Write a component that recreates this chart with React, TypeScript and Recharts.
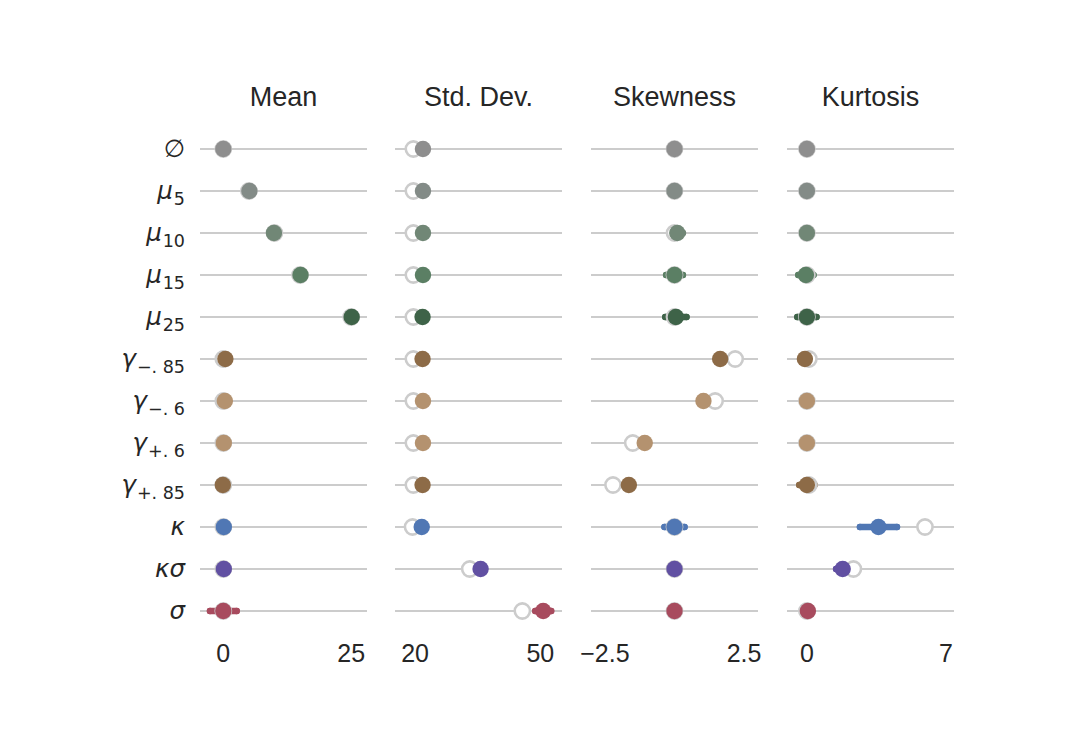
import React from "react";
import {
  ScatterChart,
  Scatter,
  XAxis,
  YAxis,
  ReferenceLine,
  ErrorBar
} from "recharts";

// rows (top to bottom)
const rowSymbols = ["∅", "μ", "μ", "μ", "μ", "γ", "γ", "γ", "γ", "κ", "κσ", "σ"];
const rowSubs = ["", "5", "10", "15", "25", "−. 85", "−. 6", "+. 6", "+. 85", "", "", ""];
const rowColors = [
  "#8e8e8e", "#838b87", "#718776", "#5b7f64", "#3e6348",
  "#8d6b47", "#b4926f", "#b4926f", "#8d6b47",
  "#5077b4", "#6150a2", "#a84b5e"
];

// Mean
const meanEst = [0, 5.1, 9.9, 15.1, 25.1, 0.4, 0.3, 0.1, -0.1, 0.1, 0.1, 0];
const meanTrue = [0, 5, 10, 15, 25, 0, 0, 0, 0, 0, 0, 0];
const meanErr = [0, 0, 0, 0, 0.3, 0, 0, 0, 0, 0, 0, 2.6];

// Std. Dev.
const stdEst = [21.9, 21.9, 21.9, 21.9, 21.8, 21.8, 21.9, 21.9, 21.8, 21.6, 35.7, 50.7];
const stdTrue = [19.6, 19.6, 19.6, 19.6, 19.6, 19.6, 19.6, 19.6, 19.6, 19.4, 33.1, 45.7];
const stdErr = [0, 0, 0, 0, 0, 0, 0, 0, 0, 0, 0, 1.9];

// Skewness
const skewEst = [0, 0, 0.1, 0, 0.05, 1.64, 1.04, -1.07, -1.64, 0, 0, 0];
const skewTrue = [0, 0, 0, 0, 0, 2.18, 1.46, -1.5, -2.21, 0, 0, 0];
const skewErr = [0, 0, 0.2, 0.3, 0.38, 0, 0, 0, 0, 0.36, 0, 0];

// Kurtosis
const kurtEst = [0, 0, 0, -0.05, 0, -0.1, 0, 0, 0, 3.6, 1.8, 0.05];
const kurtTrue = [0, 0, 0, 0, 0, 0.1, 0, 0, 0.1, 5.94, 2.34, 0];
const kurtErr = [0, 0, 0.2, 0.38, 0.48, 0, 0, 0.2, 0.38, 0.93, 0.33, 0];

const panels = [
  { title: "Mean", est: meanEst, truth: meanTrue, err: meanErr, domain: [-4.56, 28.1], ticks: [0, 25], left: 200 },
  { title: "Std. Dev.", est: stdEst, truth: stdTrue, err: stdErr, domain: [15.2, 55.2], ticks: [20, 50], left: 395 },
  { title: "Skewness", est: skewEst, truth: skewTrue, err: skewErr, domain: [-3, 3], ticks: [-2.5, 2.5], left: 591 },
  { title: "Kurtosis", est: kurtEst, truth: kurtTrue, err: kurtErr, domain: [-1, 7.4], ticks: [0, 7], left: 787 }
];

const PLOT_W = 167;
const PLOT_H = 504;
const TOP = 128;
const LABEL_W = 200;
const PAD = 30;
const rowTicks = rowSymbols.map((_, i) => i);

const fmtTick = (v: number) => String(v).replace("-", "\u2212");

const RowTick = ({ x, y, payload }: any) => {
  const i = payload.value;
  const sym = rowSymbols[i];
  const sub = rowSubs[i];
  return (
    <text
      x={x}
      y={y + 8}
      textAnchor="end"
      fill="#262626"
      fontFamily="DejaVu Sans"
      fontSize={24.5}
    >
      <tspan fontStyle={sym === "∅" ? "normal" : "italic"}>{sym}</tspan>
      {sub && (
        <tspan fontSize={17.5} dy={6} dx={1}>
          {sub}
        </tspan>
      )}
    </text>
  );
};

const HollowDot = ({ cx, cy }: any) => (
  <circle cx={cx} cy={cy} r={7.6} fill="#ffffff" stroke="#cccccc" strokeWidth={2.6} />
);

function Panel({ p, idx }: { p: (typeof panels)[number]; idx: number }) {
  const first = idx === 0;
  const leftPad = first ? 0 : PAD;
  const width = (first ? LABEL_W : PAD) + PLOT_W + PAD;
  const truthData = p.truth.map((v, i) => ({ x: v, row: i }));
  return (
    <div style={{ position: "absolute", left: first ? 0 : p.left - PAD, top: TOP }}>
      <ScatterChart
        width={width}
        height={PLOT_H + 60}
        margin={{ top: 0, right: PAD, bottom: 0, left: leftPad }}
      >
        {rowTicks.map((t) => (
          <ReferenceLine key={"r" + t} y={t} stroke="#cccccc" strokeWidth={2} />
        ))}
        <XAxis
          type="number"
          dataKey="x"
          domain={p.domain}
          allowDataOverflow
          ticks={p.ticks}
          interval={0}
          tickFormatter={fmtTick}
          axisLine={false}
          tickLine={false}
          tickSize={0}
          tickMargin={12}
          height={60}
          tick={{ fill: "#262626", fontSize: 25, fontFamily: "Liberation Sans" }}
        />
        <YAxis
          type="number"
          dataKey="row"
          domain={[-0.5, 11.5]}
          allowDataOverflow
          reversed
          ticks={rowTicks}
          interval={0}
          hide={!first}
          width={first ? LABEL_W : 0}
          axisLine={false}
          tickLine={false}
          tickSize={0}
          tickMargin={15}
          tick={<RowTick />}
        />
        <Scatter data={truthData} shape={<HollowDot />} isAnimationActive={false} />
        {p.est.map((v, i) => (
          <Scatter
            key={i}
            data={[{ x: v, row: i, err: p.err[i] }]}
            isAnimationActive={false}
            shape={(s: any) => <circle cx={s.cx} cy={s.cy} r={8.2} fill={rowColors[i]} />}
          >
            {p.err[i] > 0 && (
              <ErrorBar
                dataKey="err"
                direction="x"
                width={0}
                strokeWidth={6.5}
                stroke={rowColors[i]}
                strokeLinecap="round"
                isAnimationActive={false}
              />
            )}
          </Scatter>
        ))}
      </ScatterChart>
    </div>
  );
}

export default function App() {
  return (
    <div
      style={{
        position: "absolute",
        left: 0,
        top: 0,
        width: 1092,
        height: 744,
        background: "#ffffff",
        overflow: "hidden"
      }}
    >
      {panels.map((p, idx) => (
        <div
          key={"t" + idx}
          style={{
            position: "absolute",
            left: p.left - 20,
            width: PLOT_W + 40,
            top: 80,
            textAlign: "center",
            fontFamily: "Liberation Sans",
            fontSize: 27,
            lineHeight: "34px",
            color: "#262626"
          }}
        >
          {p.title}
        </div>
      ))}
      {panels.map((p, idx) => (
        <Panel key={idx} p={p} idx={idx} />
      ))}
    </div>
  );
}
